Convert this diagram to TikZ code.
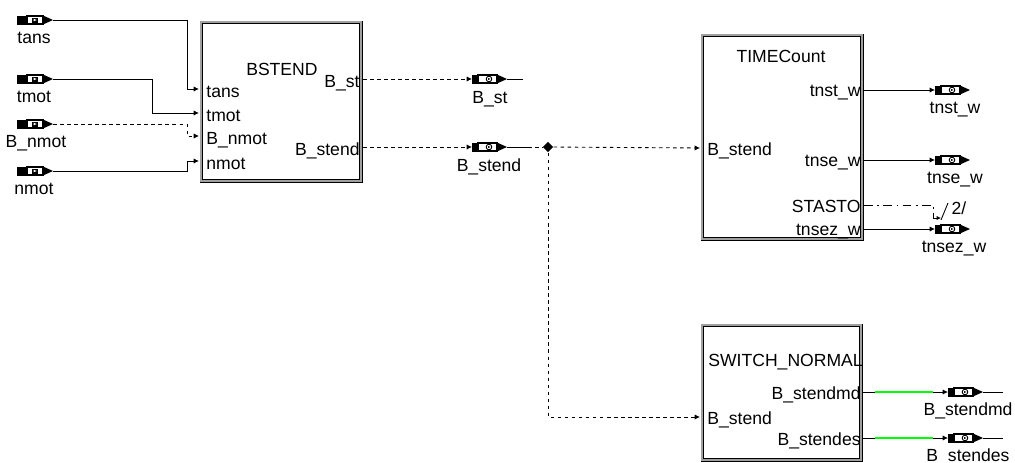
\documentclass[tikz,border=0pt]{standalone}
\usepackage{fontspec}
\setmainfont{Liberation Sans}
\usetikzlibrary{arrows.meta,positioning,shapes.geometric,calc}
\definecolor{sigGreen}{HTML}{00FF00}
\definecolor{blkGray}{HTML}{A0A0A0}

\begin{document}
\begin{tikzpicture}[x=0.02cm,y=-0.02cm,font=\fontsize{10}{12}\selectfont,line width=0.5pt]
    \tikzset{block/.style={draw,double=blkGray,double distance=1.2pt,anchor=north west,inner sep=0pt},
      wire/.style={-{Latex[length=3pt,width=3pt]}},
      dwire/.style={wire,dash pattern=on 2pt off 2pt},
      pinl/.style={anchor=base west,inner sep=0pt},
      pinr/.style={anchor=base east,inner sep=0pt},
      tag/.style={anchor=base,inner sep=0pt},
      inport/.pic={
        \fill (0,-4.5) rectangle (10,4.5);
        \draw[line width=0.6pt,fill=white] (10,-4) rectangle (26,4);
        \fill (15,-2.5) rectangle (21,2.5);
        \fill[white] (16.5,-1.3) -- (19.8,0) -- (16.5,1.3) -- cycle;
        \fill (26,-4.5) -- (36,0) -- (26,4.5) -- cycle;},
      outport/.pic={
        \fill (0,-4.5) rectangle (6,4.5);
        \draw[line width=0.6pt,fill=white] (6,-4) rectangle (25,4);
        \draw[line width=0.5pt] (17,0) circle (1.6pt);
        \fill (16,-1) -- (18.6,0) -- (16,1) -- cycle;
        \fill (25,-4.5) -- (35,0) -- (25,4.5) -- cycle;}}
    \useasboundingbox (0,0) rectangle (1015,463);
    % blocks
    \node[block,minimum width=3.2cm,minimum height=3.18cm] (bstend) at (201,22) {};
    \node[block,minimum width=3.2cm,minimum height=4.08cm] (timecount) at (702,35) {};
    \node[block,minimum width=3.18cm,minimum height=2.7cm] (switch) at (702,325) {};
    \node[pinr] (bstend-title) at (318,75) {BSTEND};
    \node[tag] (timecount-title) at (781,62) {TIMECount};
    \node[pinl] (switch-title) at (708,366) {SWITCH\_NORMAL};
    % pins of the blocks
    \coordinate (bs-tans) at (199,89);
    \coordinate (bs-tmot) at (199,113);
    \coordinate (bs-bnmot) at (199,136);
    \coordinate (bs-nmot) at (199,161);
    \coordinate (bs-bst) at (363,79);
    \coordinate (bs-bstend) at (363,147);
    \coordinate (tc-bstend) at (700,148);
    \coordinate (tc-tnst) at (864,90);
    \coordinate (tc-tnse) at (864,160);
    \coordinate (tc-stasto) at (864,205);
    \coordinate (tc-tnsez) at (864,229);
    \coordinate (sw-bstend) at (700,417);
    \coordinate (sw-bmd) at (863,392);
    \coordinate (sw-bes) at (863,438);
    \node[pinl] (bs-tans-t) at (206,97) {tans};
    \node[pinl] (bs-tmot-t) at (206,121) {tmot};
    \node[pinl] (bs-bnmot-t) at (206,144) {B\_nmot};
    \node[pinl] (bs-nmot-t) at (206,169) {nmot};
    \node[pinr] (bs-bst-t) at (360,87) {B\_st};
    \node[pinr] (bs-bstend-t) at (360,155) {B\_stend};
    \node[pinl] (tc-bstend-t) at (707,155) {B\_stend};
    \node[pinr] (tc-tnst-t) at (861,96) {tnst\_w};
    \node[pinr] (tc-tnse-t) at (861,166) {tnse\_w};
    \node[pinr] (tc-stasto-t) at (861,212) {STASTO};
    \node[pinr] (tc-tnsez-t) at (861,235) {tnsez\_w};
    \node[pinr] (sw-bmd-t) at (861,399) {B\_stendmd};
    \node[pinl] (sw-bstend-t) at (707,424) {B\_stend};
    \node[pinr] (sw-bes-t) at (861,445) {B\_stendes};
    % input ports
    \pic at (17,20) {inport}; \coordinate (tans) at (53,20);
    \pic at (17,79) {inport}; \coordinate (tmot) at (53,79);
    \pic at (17,124) {inport}; \coordinate (bnmot) at (53,124);
    \pic at (17,171) {inport}; \coordinate (nmot) at (53,171);
    \node[tag] (tans-t) at (34,43) {tans};
    \node[tag] (tmot-t) at (34,102) {tmot};
    \node[tag] (bnmot-t) at (36,147) {B\_nmot};
    \node[tag] (nmot-t) at (34,194) {nmot};
    % output ports
    \coordinate (po-bst) at (472,79);
    \coordinate (po-bstend) at (472,147);
    \coordinate (po-tnst) at (935,90);
    \coordinate (po-tnse) at (935,160);
    \coordinate (po-tnsez) at (935,229);
    \coordinate (po-bmd) at (948,392);
    \coordinate (po-bes) at (948,438);
    \foreach \p in {po-bst,po-bstend,po-tnst,po-tnse,po-tnsez,po-bmd,po-bes}
      \pic at (\p) {outport};
    \node[tag] (po-bst-t) at (490,103) {B\_st};
    \node[tag] (po-bstend-t) at (489,171) {B\_stend};
    \node[tag] (po-tnst-t) at (955,113) {tnst\_w};
    \node[tag] (po-tnse-t) at (955,183) {tnse\_w};
    \node[tag] (po-tnsez-t) at (954,252) {tnsez\_w};
    \node[tag] (po-bmd-t) at (968,415) {B\_stendmd};
    \node[tag] (po-bes-t) at (968,461) {B\_stendes};
    % connectors
    \draw[wire] (tans) -| (187,89) -- (bs-tans);
    \draw[wire] (tmot) -| (152,113) -- (bs-tmot);
    \draw[dwire] (bnmot) -| (187,136) -- (bs-bnmot);
    \draw[wire] (nmot) -| (187,161) -- (bs-nmot);
    \draw[dwire] (bs-bst) -- (po-bst);
    \draw ($(po-bst)+(35,0)$) -- ++(16,0);
    \draw[dwire] (bs-bstend) -- (po-bstend);
    \draw ($(po-bstend)+(35,0)$) coordinate (bstend-out) -- ++(21,0) coordinate (bstend-tail);
    \node[diamond,fill,inner sep=0pt,minimum size=6pt] (jct) at (548,147) {};
    \draw[dash pattern=on 2pt off 2pt] (bstend-tail) -- (jct);
    \draw[dwire] (jct) -- (tc-bstend);
    \draw[dwire] (jct) |- (sw-bstend);
    \draw[wire] (tc-tnst) -- (po-tnst);
    \draw[wire] (tc-tnse) -- (po-tnse);
    \draw[wire] (tc-tnsez) -- (po-tnsez);
    \coordinate (bit-turn) at (933,205);
    \coordinate (bit-end) at (941,218);
    \draw[-{Latex[length=2.5pt,width=2.5pt]},dash pattern=on 5pt off 2.5pt on 1pt off 2.5pt] (tc-stasto) -- (bit-turn) |- (bit-end);
    \draw (941,220) -- (948,203);
    \node[tag] (bit-t) at (959,214) {2/};
    \draw (sw-bmd) -- (875,392) coordinate (bmd-g0);
    \draw[sigGreen,line width=1.4pt] (bmd-g0) -- (933,392) coordinate (bmd-g1);
    \draw[wire] (bmd-g1) -- (po-bmd);
    \draw ($(po-bmd)+(35,0)$) -- (1003,392);
    \draw (sw-bes) -- (875,438) coordinate (bes-g0);
    \draw[sigGreen,line width=1.4pt] (bes-g0) -- (933,438) coordinate (bes-g1);
    \draw[wire] (bes-g1) -- (po-bes);
    \draw ($(po-bes)+(35,0)$) -- (1003,438);
  \end{tikzpicture}
\end{document}
